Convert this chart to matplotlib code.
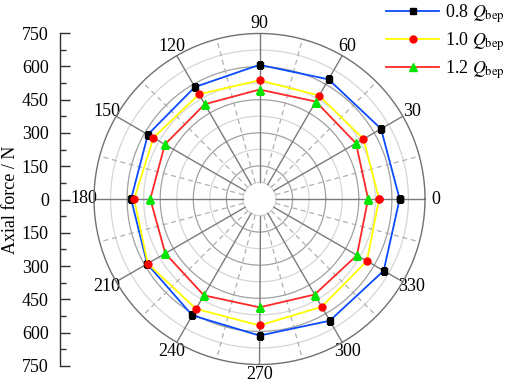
import numpy as np
import matplotlib
matplotlib.use("Agg")
import matplotlib.pyplot as plt

plt.rcParams['font.family'] = ['Liberation Serif', 'DejaVu Serif']
plt.rcParams['mathtext.fontset'] = 'stix'
plt.rcParams['font.size'] = 13

# Data (angle in degrees, axial force in N)
angles_deg = [0, 30, 60, 90, 120, 150, 180, 210, 240, 270, 300, 330]
q08 = [635, 636, 626, 608, 586, 584, 582, 588, 609, 619, 637, 650]
q10 = [542, 544, 541, 538, 548, 555, 568, 585, 575, 573, 564, 562]
q12 = [492, 505, 510, 496, 496, 495, 495, 493, 504, 491, 500, 510]
labels = ["0.8 $\\mathit{Q}_{\\mathrm{bep}}$", "1.0 $\\mathit{Q}_{\\mathrm{bep}}$",
          "1.2 $\\mathit{Q}_{\\mathrm{bep}}$"]
rmax = 750
hole = 75

W, H = 505, 386
fig = plt.figure(figsize=(W / 100, H / 100), dpi=100)

cx, cy, R = 259.5, 199, 165.5
bbox = [(cx - R) / W, (H - cy - R) / H, 2 * R / W, 2 * R / H]
ax = fig.add_axes(bbox, projection='polar')
ax.set_theta_zero_location('E')
ax.set_ylim(0, rmax)
ax.grid(False)
ax.set_yticks([])

# manual grid
th = np.linspace(0, 2 * np.pi, 400)
for r in range(hole, rmax, 75):
    col = '#a0a0a0' if r % 150 == 0 else '#d6d6d6'
    ax.plot(th, np.full_like(th, r), color=col, lw=0.9, zorder=1)
for a in range(0, 360, 30):
    t = np.deg2rad(a)
    ax.plot([t, t], [hole, rmax], color='#7a7a7a', lw=1.0, zorder=1.5)
for a in range(15, 360, 30):
    t = np.deg2rad(a)
    ax.plot([t, t], [hole, rmax], color='#b0b0b0', lw=0.9, ls=(0, (4, 3)), zorder=1.2)

ax.spines['polar'].set_color('#707070')
ax.spines['polar'].set_linewidth(1.0)

ax.set_xticks(np.deg2rad(angles_deg))
ax.set_xticklabels([str(a) for a in angles_deg])
ax.tick_params(axis='x', pad=-3, labelsize=13)

def closed(v):
    return list(v) + [v[0]]

tt = np.deg2rad(closed(angles_deg))
ax.plot(tt, closed(q08), color='#0a4bff', lw=1.3, marker='s', ms=4.5,
        mfc='black', mec='black', label=labels[0], zorder=3)
ax.plot(tt, closed(q10), color='#ffff00', lw=1.3, marker='o', ms=5,
        mfc='#ff0000', mec='#ff0000', label=labels[1], zorder=4)
ax.plot(tt, closed(q12), color='#ff2828', lw=1.3, marker='^', ms=5.5,
        mfc='#00e600', mec='#00e600', label=labels[2], zorder=5)

# left linear axis
ax2 = fig.add_axes([60 / W, (H - 366) / H, 0.001, 333 / H])
ax2.set_ylim(-rmax, rmax)
ax2.set_xticks([])
for s in ['top', 'right', 'bottom']:
    ax2.spines[s].set_visible(False)
ax2.spines['left'].set_color('#303030')
ax2.spines['left'].set_linewidth(1.0)
yt = np.arange(-750, 751, 150)
ax2.set_yticks(yt)
ax2.set_yticklabels([str(abs(v)) for v in yt])
ax2.set_yticks(np.arange(-675, 676, 150), minor=True)
ax2.tick_params(axis='y', which='major', direction='in', length=7, width=1, pad=8,
                labelsize=13, color='#303030')
ax2.tick_params(axis='y', which='minor', direction='in', length=4, width=1,
                color='#303030')
ax2.patch.set_alpha(0)
ax2.set_ylabel('Axial force / N', fontsize=13, labelpad=2)

leg = fig.legend(loc='upper right', bbox_to_anchor=(1.0, 0.995), frameon=False,
                 handlelength=2.9, handletextpad=0.35, labelspacing=0.3,
                 borderaxespad=0.0, borderpad=0.0, fontsize=13)

fig.savefig('out.png', dpi=100)
